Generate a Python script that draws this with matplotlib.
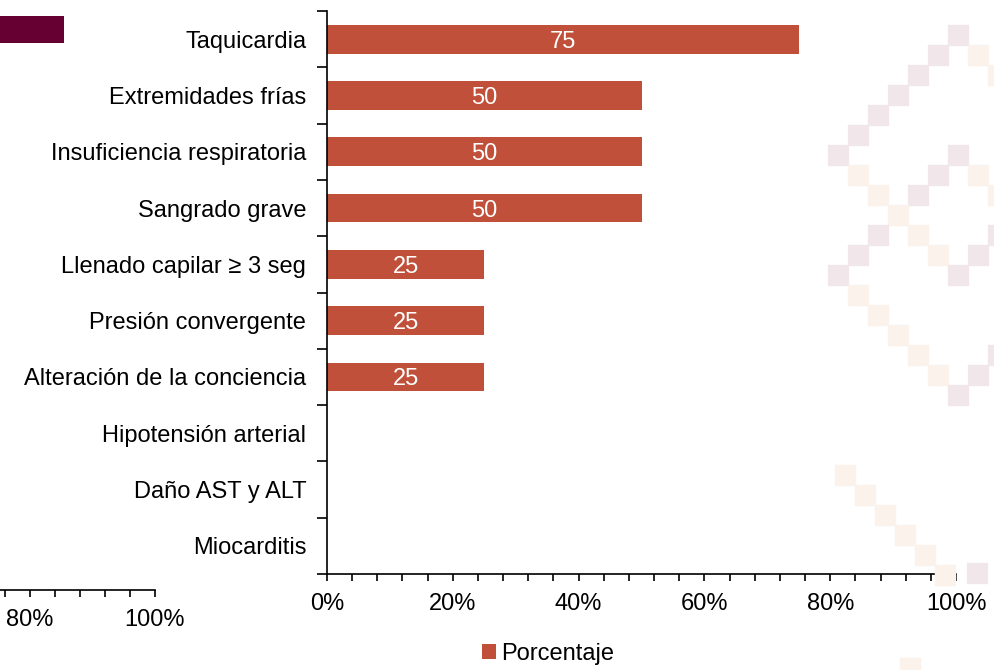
import matplotlib
matplotlib.use("Agg")
import matplotlib.pyplot as plt
from matplotlib.patches import Rectangle
from matplotlib.ticker import MultipleLocator, FixedLocator, FuncFormatter

plt.rcParams['font.family'] = ['Liberation Sans', 'DejaVu Sans']

# data
categorias = ["Taquicardia", "Extremidades frías", "Insuficiencia respiratoria",
              "Sangrado grave", "Llenado capilar ≥ 3 seg", "Presión convergente",
              "Alteración de la conciencia", "Hipotensión arterial",
              "Daño AST y ALT", "Miocarditis"]
porcentaje = [75, 50, 50, 50, 25, 25, 25, 0, 0, 0]
etiquetas = ["75", "50", "50", "50", "25", "25", "25", "", "", ""]
# leftover bar of the neighbouring chart (cut off at the left edge)
resto_valor = [85.5]
resto_ticks = [80, 100]

rojo = "#C0503A"
granate = "#660033"
rosa = "#F1E6EA"
crema = "#FBF2EC"
fs = 17

W, H = 994, 670
fig = plt.figure(figsize=(W / 100, H / 100), dpi=100)

# faint background pattern (col, row, colour) on a 20px grid
patron = [(6, 0, rosa), (5, 1, rosa), (4, 2, rosa), (3, 3, rosa), (2, 4, rosa),
          (1, 5, rosa), (0, 6, rosa), (7, 1, crema), (8, 2, crema),
          (6, 6, rosa), (5, 7, rosa), (4, 8, rosa), (7, 7, crema), (8, 8, crema),
          (1, 7, crema), (2, 8, crema), (3, 9, crema), (4, 10, crema), (5, 11, crema),
          (6, 12, rosa), (2, 10, rosa), (1, 11, rosa), (0, 12, rosa),
          (7, 11, rosa), (8, 10, rosa), (1, 13, crema), (2, 14, crema),
          (3, 15, crema), (4, 16, crema), (5, 17, crema), (6, 18, rosa),
          (7, 17, rosa), (8, 16, rosa)]
for c, r, col in patron:
    x0 = 828 + 20 * c
    y0 = 25 + 20 * r
    fig.patches.append(Rectangle((x0 / W, 1 - (y0 + 20) / H), 20 / W, 20 / H,
                                 transform=fig.transFigure, color=col, zorder=0))
for i in range(6):
    x0 = 835 + 20 * i
    y0 = 465 + 20 * i
    fig.patches.append(Rectangle((x0 / W, 1 - (y0 + 20) / H), 20 / W, 20 / H,
                                 transform=fig.transFigure, color=crema, zorder=0))
fig.patches.append(Rectangle((967 / W, 1 - 583 / H), 20 / W, 20 / H,
                             transform=fig.transFigure, color=rosa, zorder=0))
fig.patches.append(Rectangle((900 / W, 1 - 670 / H), 20 / W, 12 / H,
                             transform=fig.transFigure, color=crema, zorder=0))

pct = FuncFormatter(lambda v, p: f"{v:.0f}%")

# remnant of the neighbouring chart
ax0 = fig.add_axes([-470 / W, 1 - 590 / H, 625 / W, 590 / H])
ax0.patch.set_alpha(0)
ax0.barh([0], resto_valor, height=0.46, color=granate)
ax0.set_xlim(0, 100)
ax0.set_ylim(9.5, -0.5)
for s in ["top", "right", "left"]:
    ax0.spines[s].set_visible(False)
ax0.spines["bottom"].set_linewidth(1.2)
ax0.set_yticks([])
ax0.xaxis.set_major_locator(FixedLocator(resto_ticks))
ax0.xaxis.set_minor_locator(MultipleLocator(4))
ax0.xaxis.set_major_formatter(pct)
ax0.tick_params(axis="x", which="both", direction="out", length=5, width=1.2,
                labelsize=fs, pad=9)

# main chart
ax = fig.add_axes([327 / W, 1 - 574 / H, 629 / W, 563 / H])
ax.patch.set_alpha(0)
y = list(range(len(categorias)))
bars = ax.barh(y, porcentaje, height=0.51, color=rojo)
txts = ax.bar_label(bars, labels=etiquetas, label_type="center", color="white",
                    fontsize=fs)
for t in txts:
    t.set_va("center_baseline")
ax.set_xlim(0, 100)
ax.set_ylim(len(categorias) - 0.5, -0.5)
ax.set_yticks(y)
ax.set_yticklabels(categorias)
ax.set_yticks([i - 0.5 for i in range(len(categorias) + 1)], minor=True)
ax.tick_params(axis="y", which="major", length=0, labelsize=fs, pad=15)
ax.tick_params(axis="y", which="minor", length=7, width=1.2, direction="out")
ax.xaxis.set_major_locator(MultipleLocator(20))
ax.xaxis.set_minor_locator(MultipleLocator(4))
ax.xaxis.set_major_formatter(pct)
ax.tick_params(axis="x", which="both", direction="out", length=5, width=1.2,
               labelsize=fs, pad=9)
for s in ["top", "right"]:
    ax.spines[s].set_visible(False)
ax.spines["left"].set_linewidth(1.2)
ax.spines["bottom"].set_linewidth(1.2)

fig.legend(handles=[bars], labels=["Porcentaje"], loc="center",
           bbox_to_anchor=(548 / W, 1 - 654 / H), frameon=False, fontsize=fs,
           handlelength=0.6, handleheight=0.6, handletextpad=0.2)

fig.savefig("out.png", dpi=100)
